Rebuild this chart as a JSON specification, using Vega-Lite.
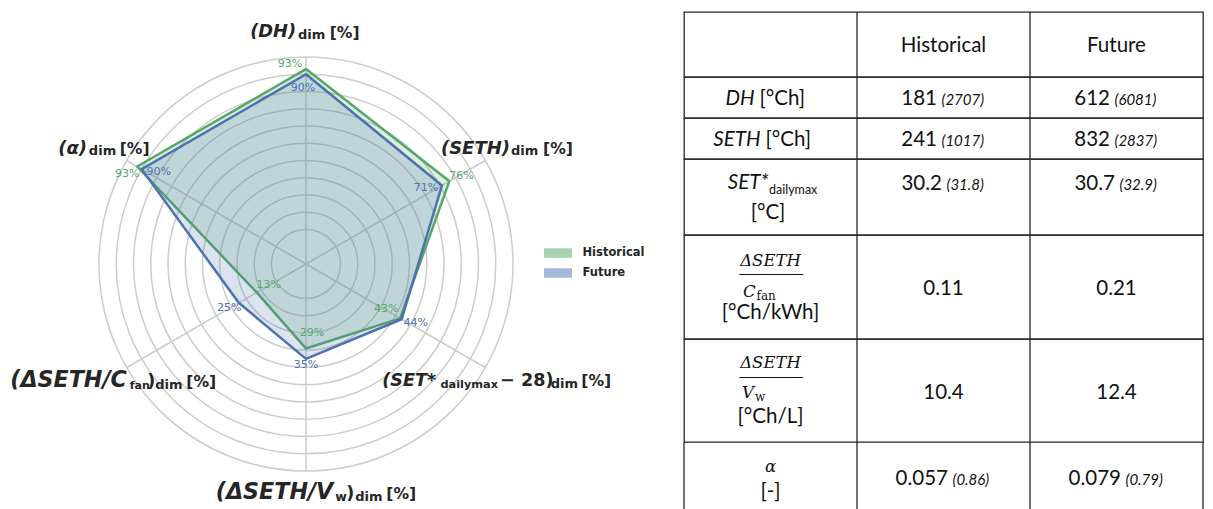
{
 "$schema": "https://vega.github.io/schema/vega-lite/v6.json",
 "padding": {"left": 0, "top": 10, "right": 0, "bottom": 0},
 "background": "white",
 "bounds": "flush",
 "spacing": 0,
 "config": {"view": {"stroke": null}, "concat": {"spacing": 0}},
 "datasets": {
  "radar": [
   {"axis": "DH", "i": 0, "series": "Historical", "value": 93},
   {"axis": "SETH", "i": 1, "series": "Historical", "value": 76},
   {"axis": "SET", "i": 2, "series": "Historical", "value": 43},
   {"axis": "Vw", "i": 3, "series": "Historical", "value": 29},
   {"axis": "Cfan", "i": 4, "series": "Historical", "value": 13},
   {"axis": "alpha", "i": 5, "series": "Historical", "value": 93},
   {"axis": "DH", "i": 0, "series": "Future", "value": 90},
   {"axis": "SETH", "i": 1, "series": "Future", "value": 71},
   {"axis": "SET", "i": 2, "series": "Future", "value": 44},
   {"axis": "Vw", "i": 3, "series": "Future", "value": 35},
   {"axis": "Cfan", "i": 4, "series": "Future", "value": 25},
   {"axis": "alpha", "i": 5, "series": "Future", "value": 90}
  ],
  "axes": [
   {"axis": "DH", "i": 0, "m1": "(DH)", "dim": "dim", "unit": "[%]"},
   {"axis": "SETH", "i": 1, "m1": "(SETH)", "dim": "dim", "unit": "[%]"},
   {"axis": "SET", "i": 2, "m1": "(SET*", "sub": "dailymax", "tail": "− 28)", "dim": "dim", "unit": "[%]"},
   {"axis": "Vw", "i": 3, "m1": "(ΔSETH/V", "sub": "w", "tail": ")", "dim": "dim", "unit": "[%]"},
   {"axis": "Cfan", "i": 4, "m1": "(ΔSETH/C", "sub": "fan", "tail": ")", "dim": "dim", "unit": "[%]"},
   {"axis": "alpha", "i": 5, "m1": "(α)", "dim": "dim", "unit": "[%]"}
  ],
  "grid": [
   {"level": 0}, {"level": 10}, {"level": 20}, {"level": 30}, {"level": 40}, {"level": 50},
   {"level": 60}, {"level": 70}, {"level": 80}, {"level": 90}, {"level": 100}
  ],
  "table": [
   {"row": "header", "col": "c1", "a": ""},
   {"row": "header", "col": "c2", "a": "Historical"},
   {"row": "header", "col": "c3", "a": "Future"},
   {"row": "DH", "col": "c1", "a": "DH", "b": "[°Ch]"},
   {"row": "DH", "col": "c2", "a": "181", "b": "(2707)"},
   {"row": "DH", "col": "c3", "a": "612", "b": "(6081)"},
   {"row": "SETH", "col": "c1", "a": "SETH", "b": "[°Ch]"},
   {"row": "SETH", "col": "c2", "a": "241", "b": "(1017)"},
   {"row": "SETH", "col": "c3", "a": "832", "b": "(2837)"},
   {"row": "SET", "col": "c1", "a": "SET*", "b": "dailymax", "c": "[°C]"},
   {"row": "SET", "col": "c2", "a": "30.2", "b": "(31.8)"},
   {"row": "SET", "col": "c3", "a": "30.7", "b": "(32.9)"},
   {"row": "Cfan", "col": "c1", "a": "ΔSETH", "b": "C", "c": "fan", "d": "[°Ch/kWh]"},
   {"row": "Cfan", "col": "c2", "a": "0.11"},
   {"row": "Cfan", "col": "c3", "a": "0.21"},
   {"row": "Vw", "col": "c1", "a": "ΔSETH", "b": "V", "c": "w", "d": "[°Ch/L]"},
   {"row": "Vw", "col": "c2", "a": "10.4"},
   {"row": "Vw", "col": "c3", "a": "12.4"},
   {"row": "alpha", "col": "c1", "a": "α", "b": "[-]"},
   {"row": "alpha", "col": "c2", "a": "0.057", "b": "(0.86)"},
   {"row": "alpha", "col": "c3", "a": "0.079", "b": "(0.79)"}
  ]
 },
 "hconcat": [
  {
   "width": 684,
   "height": 499,
   "view": {"stroke": null},
   "encoding": {
    "x": {"field": "px", "type": "quantitative", "scale": {"domain": [-177.391, 219.13], "nice": false, "zero": false}, "axis": null},
    "y": {"field": "py", "type": "quantitative", "scale": {"domain": [-143.188, 146.087], "nice": false, "zero": false}, "axis": null}
   },
   "layer": [
    {
     "data": {"name": "grid"},
     "transform": [{"calculate": "0", "as": "px"}, {"calculate": "0", "as": "py"}, {"calculate": "datum.level + 20", "as": "u"}],
     "mark": {"type": "point", "shape": "circle", "filled": false, "stroke": "#cccccc", "strokeWidth": 1.5, "opacity": 1},
     "encoding": {"size": {"field": "u", "type": "quantitative", "scale": {"type": "pow", "exponent": 2, "domain": [0, 120], "range": [0, 171396]}, "legend": null}}
    },
    {
     "data": {"name": "axes"},
     "transform": [
      {"calculate": "PI/2 - datum.i*PI/3", "as": "t"},
      {"calculate": "0", "as": "px"}, {"calculate": "0", "as": "py"},
      {"calculate": "120*cos(datum.t)", "as": "ex"}, {"calculate": "120*sin(datum.t)", "as": "ey"}
     ],
     "mark": {"type": "rule", "stroke": "#cccccc", "strokeWidth": 1.5},
     "encoding": {"x2": {"field": "ex"}, "y2": {"field": "ey"}}
    },
    {
     "data": {"name": "radar"},
     "transform": [
      {"calculate": "PI/2 - datum.i*PI/3", "as": "t"},
      {"calculate": "(datum.value+20)*cos(datum.t)", "as": "px"},
      {"calculate": "(datum.value+20)*sin(datum.t)", "as": "py"},
      {"calculate": "datum.value + '%'", "as": "lbl"}
     ],
     "layer": [
      {
       "transform": [{"filter": "datum.series=='Historical'"}],
       "mark": {"type": "line", "interpolate": "linear-closed", "stroke": "#55a868", "strokeWidth": 2.5, "fillOpacity": 0.2, "strokeJoin": "miter"},
       "encoding": {
        "order": {"field": "i", "type": "quantitative"},
        "fill": {"field": "series", "type": "nominal", "scale": {"domain": ["Historical", "Future"], "range": ["#55a868", "#4c72b0"]},
         "legend": {"title": null, "orient": "none", "legendX": 544, "legendY": 227, "direction": "vertical", "symbolType": "M-1,-0.34H1V0.34H-1Z", "symbolSize": 784, "symbolOpacity": 0.5, "symbolStrokeWidth": 0, "labelFont": "DejaVu Sans", "labelFontWeight": "bold", "labelFontSize": 11.5, "labelColor": "#262626", "labelOffset": 10.5, "rowPadding": -8.5, "padding": 0}}
       }
      },
      {
       "transform": [{"filter": "datum.series=='Future'"}],
       "mark": {"type": "line", "interpolate": "linear-closed", "stroke": "#4c72b0", "strokeWidth": 2.5, "fillOpacity": 0.2, "strokeJoin": "miter"},
       "encoding": {
        "order": {"field": "i", "type": "quantitative"},
        "fill": {"field": "series", "type": "nominal", "scale": {"domain": ["Historical", "Future"], "range": ["#55a868", "#4c72b0"]},
         "legend": {"title": null, "orient": "none", "legendX": 544, "legendY": 227, "direction": "vertical", "symbolType": "M-1,-0.34H1V0.34H-1Z", "symbolSize": 784, "symbolOpacity": 0.5, "symbolStrokeWidth": 0, "labelFont": "DejaVu Sans", "labelFontWeight": "bold", "labelFontSize": 11.5, "labelColor": "#262626", "labelOffset": 10.5, "rowPadding": -8.5, "padding": 0}}
       }
      },
      {"transform": [{"filter": "datum.series=='Historical' && datum.axis=='DH'"}], "mark": {"type": "text", "font": "DejaVu Sans", "fontSize": 11, "color": "#55a868", "dx": -16, "dy": -5}, "encoding": {"text": {"field": "lbl"}}},
      {"transform": [{"filter": "datum.series=='Future' && datum.axis=='DH'"}], "mark": {"type": "text", "font": "DejaVu Sans", "fontSize": 11, "color": "#4c72b0", "dx": -3, "dy": 14}, "encoding": {"text": {"field": "lbl"}}},
      {"transform": [{"filter": "datum.series=='Historical' && datum.axis=='SETH'"}], "mark": {"type": "text", "font": "DejaVu Sans", "fontSize": 11, "color": "#55a868", "dx": 12, "dy": -5}, "encoding": {"text": {"field": "lbl"}}},
      {"transform": [{"filter": "datum.series=='Future' && datum.axis=='SETH'"}], "mark": {"type": "text", "font": "DejaVu Sans", "fontSize": 11, "color": "#4c72b0", "dx": -16, "dy": 2.5}, "encoding": {"text": {"field": "lbl"}}},
      {"transform": [{"filter": "datum.series=='Historical' && datum.axis=='SET'"}], "mark": {"type": "text", "font": "DejaVu Sans", "fontSize": 11, "color": "#55a868", "dx": -14, "dy": -9.6}, "encoding": {"text": {"field": "lbl"}}},
      {"transform": [{"filter": "datum.series=='Future' && datum.axis=='SET'"}], "mark": {"type": "text", "font": "DejaVu Sans", "fontSize": 11, "color": "#4c72b0", "dx": 14, "dy": 4}, "encoding": {"text": {"field": "lbl"}}},
      {"transform": [{"filter": "datum.series=='Historical' && datum.axis=='Vw'"}], "mark": {"type": "text", "font": "DejaVu Sans", "fontSize": 11, "color": "#55a868", "dx": 6, "dy": -16}, "encoding": {"text": {"field": "lbl"}}},
      {"transform": [{"filter": "datum.series=='Future' && datum.axis=='Vw'"}], "mark": {"type": "text", "font": "DejaVu Sans", "fontSize": 11, "color": "#4c72b0", "dx": 0, "dy": 6.5}, "encoding": {"text": {"field": "lbl"}}},
      {"transform": [{"filter": "datum.series=='Historical' && datum.axis=='Cfan'"}], "mark": {"type": "text", "font": "DejaVu Sans", "fontSize": 11, "color": "#55a868", "dx": 12, "dy": -7}, "encoding": {"text": {"field": "lbl"}}},
      {"transform": [{"filter": "datum.series=='Future' && datum.axis=='Cfan'"}], "mark": {"type": "text", "font": "DejaVu Sans", "fontSize": 11, "color": "#4c72b0", "dx": -9.5, "dy": 5}, "encoding": {"text": {"field": "lbl"}}},
      {"transform": [{"filter": "datum.series=='Historical' && datum.axis=='alpha'"}], "mark": {"type": "text", "font": "DejaVu Sans", "fontSize": 11, "color": "#55a868", "dx": -10, "dy": 7}, "encoding": {"text": {"field": "lbl"}}},
      {"transform": [{"filter": "datum.series=='Future' && datum.axis=='alpha'"}], "mark": {"type": "text", "font": "DejaVu Sans", "fontSize": 11, "color": "#4c72b0", "dx": 17, "dy": 3}, "encoding": {"text": {"field": "lbl"}}}
     ]
    },
    {
     "data": {"name": "axes"},
     "transform": [
      {"calculate": "PI/2 - datum.i*PI/3", "as": "t"},
      {"calculate": "134.5*cos(datum.t)", "as": "px"},
      {"calculate": "134.5*sin(datum.t)", "as": "py"}
     ],
     "layer": [
      {"transform": [{"filter": "datum.axis=='DH'"}], "mark": {"type": "text", "align": "left", "baseline": "alphabetic", "font": "DejaVu Sans", "fontWeight": "bold", "fontStyle": "italic", "fontSize": 17.8, "color": "#262626", "dx": -55.8, "dy": 5}, "encoding": {"text": {"field": "m1"}}},
      {"transform": [{"filter": "datum.axis=='DH'"}], "mark": {"type": "text", "align": "left", "baseline": "alphabetic", "font": "DejaVu Sans", "fontWeight": "bold", "fontSize": 13, "color": "#262626", "dx": -8, "dy": 6.8}, "encoding": {"text": {"field": "dim"}}},
      {"transform": [{"filter": "datum.axis=='DH'"}], "mark": {"type": "text", "align": "left", "baseline": "alphabetic", "font": "DejaVu Sans", "fontWeight": "bold", "fontSize": 15.6, "color": "#262626", "dx": 23.7, "dy": 6}, "encoding": {"text": {"field": "unit"}}},

      {"transform": [{"filter": "datum.axis=='SETH'"}], "mark": {"type": "text", "align": "left", "baseline": "alphabetic", "font": "DejaVu Sans", "fontWeight": "bold", "fontStyle": "italic", "fontSize": 18, "color": "#262626", "dx": -66, "dy": 5.7}, "encoding": {"text": {"field": "m1"}}},
      {"transform": [{"filter": "datum.axis=='SETH'"}], "mark": {"type": "text", "align": "left", "baseline": "alphabetic", "font": "DejaVu Sans", "fontWeight": "bold", "fontSize": 13, "color": "#262626", "dx": 4.1, "dy": 7.3}, "encoding": {"text": {"field": "dim"}}},
      {"transform": [{"filter": "datum.axis=='SETH'"}], "mark": {"type": "text", "align": "left", "baseline": "alphabetic", "font": "DejaVu Sans", "fontWeight": "bold", "fontSize": 15.6, "color": "#262626", "dx": 36.1, "dy": 5.7}, "encoding": {"text": {"field": "unit"}}},

      {"transform": [{"filter": "datum.axis=='alpha'"}], "mark": {"type": "text", "align": "left", "baseline": "alphabetic", "font": "DejaVu Sans", "fontWeight": "bold", "fontStyle": "italic", "fontSize": 18, "color": "#262626", "dx": -46.9, "dy": 5.7}, "encoding": {"text": {"field": "m1"}}},
      {"transform": [{"filter": "datum.axis=='alpha'"}], "mark": {"type": "text", "align": "left", "baseline": "alphabetic", "font": "DejaVu Sans", "fontWeight": "bold", "fontSize": 13, "color": "#262626", "dx": -16.2, "dy": 7.3}, "encoding": {"text": {"field": "dim"}}},
      {"transform": [{"filter": "datum.axis=='alpha'"}], "mark": {"type": "text", "align": "left", "baseline": "alphabetic", "font": "DejaVu Sans", "fontWeight": "bold", "fontSize": 15.6, "color": "#262626", "dx": 14.6, "dy": 5.7}, "encoding": {"text": {"field": "unit"}}},

      {"transform": [{"filter": "datum.axis=='SET'"}], "mark": {"type": "text", "align": "left", "baseline": "alphabetic", "font": "DejaVu Sans", "fontWeight": "bold", "fontStyle": "italic", "fontSize": 17.6, "color": "#262626", "dx": -124.7, "dy": 6.3}, "encoding": {"text": {"field": "m1"}}},
      {"transform": [{"filter": "datum.axis=='SET'"}], "mark": {"type": "text", "align": "left", "baseline": "alphabetic", "font": "DejaVu Sans", "fontWeight": "bold", "fontSize": 11.3, "color": "#262626", "dx": -66.4, "dy": 8}, "encoding": {"text": {"field": "sub"}}},
      {"transform": [{"filter": "datum.axis=='SET'"}], "mark": {"type": "text", "align": "left", "baseline": "alphabetic", "font": "DejaVu Sans", "fontWeight": "bold", "fontSize": 17.6, "color": "#262626", "dx": -6.9, "dy": 6.3}, "encoding": {"text": {"field": "tail"}}},
      {"transform": [{"filter": "datum.axis=='SET'"}], "mark": {"type": "text", "align": "left", "baseline": "alphabetic", "font": "DejaVu Sans", "fontWeight": "bold", "fontSize": 13, "color": "#262626", "dx": 43.8, "dy": 8.3}, "encoding": {"text": {"field": "dim"}}},
      {"transform": [{"filter": "datum.axis=='SET'"}], "mark": {"type": "text", "align": "left", "baseline": "alphabetic", "font": "DejaVu Sans", "fontWeight": "bold", "fontSize": 15.6, "color": "#262626", "dx": 74.4, "dy": 6.3}, "encoding": {"text": {"field": "unit"}}},

      {"transform": [{"filter": "datum.axis=='Cfan'"}], "mark": {"type": "text", "align": "left", "baseline": "alphabetic", "font": "DejaVu Sans", "fontWeight": "bold", "fontStyle": "italic", "fontSize": 22.2, "color": "#262626", "dx": -94.8, "dy": 7}, "encoding": {"text": {"field": "m1"}}},
      {"transform": [{"filter": "datum.axis=='Cfan'"}], "mark": {"type": "text", "align": "left", "baseline": "alphabetic", "font": "DejaVu Sans", "fontWeight": "bold", "fontSize": 11, "color": "#262626", "dx": 24.6, "dy": 8.7}, "encoding": {"text": {"field": "sub"}}},
      {"transform": [{"filter": "datum.axis=='Cfan'"}], "mark": {"type": "text", "align": "left", "baseline": "alphabetic", "font": "DejaVu Sans", "fontWeight": "bold", "fontSize": 17.6, "color": "#262626", "dx": 42.2, "dy": 7}, "encoding": {"text": {"field": "tail"}}},
      {"transform": [{"filter": "datum.axis=='Cfan'"}], "mark": {"type": "text", "align": "left", "baseline": "alphabetic", "font": "DejaVu Sans", "fontWeight": "bold", "fontSize": 13, "color": "#262626", "dx": 50.2, "dy": 9.3}, "encoding": {"text": {"field": "dim"}}},
      {"transform": [{"filter": "datum.axis=='Cfan'"}], "mark": {"type": "text", "align": "left", "baseline": "alphabetic", "font": "DejaVu Sans", "fontWeight": "bold", "fontSize": 15.6, "color": "#262626", "dx": 81.2, "dy": 7}, "encoding": {"text": {"field": "unit"}}},

      {"transform": [{"filter": "datum.axis=='Vw'"}], "mark": {"type": "text", "align": "left", "baseline": "alphabetic", "font": "DejaVu Sans", "fontWeight": "bold", "fontStyle": "italic", "fontSize": 22.2, "color": "#262626", "dx": -90.2, "dy": 3.3}, "encoding": {"text": {"field": "m1"}}},
      {"transform": [{"filter": "datum.axis=='Vw'"}], "mark": {"type": "text", "align": "left", "baseline": "alphabetic", "font": "DejaVu Sans", "fontWeight": "bold", "fontSize": 12.5, "color": "#262626", "dx": 29.2, "dy": 5.3}, "encoding": {"text": {"field": "sub"}}},
      {"transform": [{"filter": "datum.axis=='Vw'"}], "mark": {"type": "text", "align": "left", "baseline": "alphabetic", "font": "DejaVu Sans", "fontWeight": "bold", "fontSize": 17.6, "color": "#262626", "dx": 40.2, "dy": 3.3}, "encoding": {"text": {"field": "tail"}}},
      {"transform": [{"filter": "datum.axis=='Vw'"}], "mark": {"type": "text", "align": "left", "baseline": "alphabetic", "font": "DejaVu Sans", "fontWeight": "bold", "fontSize": 13, "color": "#262626", "dx": 49.3, "dy": 5.3}, "encoding": {"text": {"field": "dim"}}},
      {"transform": [{"filter": "datum.axis=='Vw'"}], "mark": {"type": "text", "align": "left", "baseline": "alphabetic", "font": "DejaVu Sans", "fontWeight": "bold", "fontSize": 15.6, "color": "#262626", "dx": 80.3, "dy": 3.3}, "encoding": {"text": {"field": "unit"}}}
     ]
    }
   ]
  },
  {
   "spacing": 0,
   "bounds": "flush",
   "vconcat": [
    {
     "height": 65, "width": 519,
     "view": {"stroke": "#262626", "strokeWidth": 1.3},
     "data": {"name": "table"},
     "transform": [{"filter": "datum.row=='header'"}],
     "encoding": {"x": {"field": "col", "type": "nominal", "scale": {"domain": ["c1", "c2", "c3"], "paddingInner": 0, "paddingOuter": 0}, "axis": null}},
     "layer": [
      {"transform": [{"filter": "datum.col!='c1'"}], "mark": {"type": "rule", "stroke": "#262626", "strokeWidth": 1.3}, "encoding": {"x": {"field": "col", "type": "nominal", "bandPosition": 0, "scale": {"domain": ["c1", "c2", "c3"], "paddingInner": 0, "paddingOuter": 0}, "axis": null}}},
      {"transform": [{"filter": "datum.col!='c1'"}], "mark": {"type": "text", "baseline": "alphabetic", "font": "Lato", "fontSize": 20.5, "color": "#111111", "dy": 7.5}, "encoding": {"text": {"field": "a"}}}
     ]
    },
    {
     "height": 41, "width": 519,
     "view": {"stroke": "#262626", "strokeWidth": 1.3},
     "data": {"name": "table"},
     "transform": [{"filter": "datum.row=='DH'"}],
     "encoding": {"x": {"field": "col", "type": "nominal", "scale": {"domain": ["c1", "c2", "c3"], "paddingInner": 0, "paddingOuter": 0}, "axis": null}},
     "layer": [
      {"transform": [{"filter": "datum.col!='c1'"}], "mark": {"type": "rule", "stroke": "#262626", "strokeWidth": 1.3}, "encoding": {"x": {"field": "col", "type": "nominal", "bandPosition": 0, "scale": {"domain": ["c1", "c2", "c3"], "paddingInner": 0, "paddingOuter": 0}, "axis": null}}},
      {"transform": [{"filter": "datum.col=='c1'"}], "mark": {"type": "text", "align": "right", "baseline": "alphabetic", "font": "Lato", "fontStyle": "italic", "fontSize": 20.5, "color": "#111111", "dx": -16, "dy": 7}, "encoding": {"text": {"field": "a"}}},
      {"transform": [{"filter": "datum.col=='c1'"}], "mark": {"type": "text", "align": "left", "baseline": "alphabetic", "font": "Lato", "fontSize": 20.5, "color": "#111111", "dx": -11, "dy": 7}, "encoding": {"text": {"field": "b"}}},
      {"transform": [{"filter": "datum.col!='c1'"}], "mark": {"type": "text", "align": "right", "baseline": "alphabetic", "font": "Lato", "fontSize": 20.5, "color": "#111111", "dx": -6.5, "dy": 7}, "encoding": {"text": {"field": "a"}}},
      {"transform": [{"filter": "datum.col!='c1'"}], "mark": {"type": "text", "align": "left", "baseline": "alphabetic", "font": "Lato", "fontStyle": "italic", "fontSize": 15, "color": "#111111", "dx": -2, "dy": 7}, "encoding": {"text": {"field": "b"}}}
     ]
    },
    {
     "height": 41, "width": 519,
     "view": {"stroke": "#262626", "strokeWidth": 1.3},
     "data": {"name": "table"},
     "transform": [{"filter": "datum.row=='SETH'"}],
     "encoding": {"x": {"field": "col", "type": "nominal", "scale": {"domain": ["c1", "c2", "c3"], "paddingInner": 0, "paddingOuter": 0}, "axis": null}},
     "layer": [
      {"transform": [{"filter": "datum.col!='c1'"}], "mark": {"type": "rule", "stroke": "#262626", "strokeWidth": 1.3}, "encoding": {"x": {"field": "col", "type": "nominal", "bandPosition": 0, "scale": {"domain": ["c1", "c2", "c3"], "paddingInner": 0, "paddingOuter": 0}, "axis": null}}},
      {"transform": [{"filter": "datum.col=='c1'"}], "mark": {"type": "text", "align": "right", "baseline": "alphabetic", "font": "Lato", "fontStyle": "italic", "fontSize": 20.5, "color": "#111111", "dx": -10, "dy": 7}, "encoding": {"text": {"field": "a"}}},
      {"transform": [{"filter": "datum.col=='c1'"}], "mark": {"type": "text", "align": "left", "baseline": "alphabetic", "font": "Lato", "fontSize": 20.5, "color": "#111111", "dx": -5, "dy": 7}, "encoding": {"text": {"field": "b"}}},
      {"transform": [{"filter": "datum.col!='c1'"}], "mark": {"type": "text", "align": "right", "baseline": "alphabetic", "font": "Lato", "fontSize": 20.5, "color": "#111111", "dx": -6.5, "dy": 7}, "encoding": {"text": {"field": "a"}}},
      {"transform": [{"filter": "datum.col!='c1'"}], "mark": {"type": "text", "align": "left", "baseline": "alphabetic", "font": "Lato", "fontStyle": "italic", "fontSize": 15, "color": "#111111", "dx": -2, "dy": 7}, "encoding": {"text": {"field": "b"}}}
     ]
    },
    {
     "height": 76, "width": 519,
     "view": {"stroke": "#262626", "strokeWidth": 1.3},
     "data": {"name": "table"},
     "transform": [{"filter": "datum.row=='SET'"}],
     "encoding": {"x": {"field": "col", "type": "nominal", "scale": {"domain": ["c1", "c2", "c3"], "paddingInner": 0, "paddingOuter": 0}, "axis": null}},
     "layer": [
      {"transform": [{"filter": "datum.col!='c1'"}], "mark": {"type": "rule", "stroke": "#262626", "strokeWidth": 1.3}, "encoding": {"x": {"field": "col", "type": "nominal", "bandPosition": 0, "scale": {"domain": ["c1", "c2", "c3"], "paddingInner": 0, "paddingOuter": 0}, "axis": null}}},
      {"transform": [{"filter": "datum.col=='c1'"}], "mark": {"type": "text", "align": "right", "baseline": "alphabetic", "font": "Lato", "fontStyle": "italic", "fontSize": 20.5, "color": "#111111", "dx": -2, "dy": -8}, "encoding": {"text": {"field": "a"}}},
      {"transform": [{"filter": "datum.col=='c1'"}], "mark": {"type": "text", "align": "left", "baseline": "alphabetic", "font": "Lato", "fontSize": 12.5, "color": "#111111", "dx": -1.5, "dy": -3}, "encoding": {"text": {"field": "b"}}},
      {"transform": [{"filter": "datum.col=='c1'"}], "mark": {"type": "text", "align": "center", "baseline": "alphabetic", "font": "Lato", "fontSize": 20.5, "color": "#111111", "dx": -2.5, "dy": 21.5}, "encoding": {"text": {"field": "c"}}},
      {"transform": [{"filter": "datum.col!='c1'"}], "mark": {"type": "text", "align": "right", "baseline": "alphabetic", "font": "Lato", "fontSize": 20.5, "color": "#111111", "dx": -1.5, "dy": -7}, "encoding": {"text": {"field": "a"}}},
      {"transform": [{"filter": "datum.col!='c1'"}], "mark": {"type": "text", "align": "left", "baseline": "alphabetic", "font": "Lato", "fontStyle": "italic", "fontSize": 15, "color": "#111111", "dx": 3, "dy": -7}, "encoding": {"text": {"field": "b"}}}
     ]
    },
    {
     "height": 104, "width": 519,
     "view": {"stroke": "#262626", "strokeWidth": 1.3},
     "data": {"name": "table"},
     "transform": [{"filter": "datum.row=='Cfan'"}],
     "encoding": {"x": {"field": "col", "type": "nominal", "scale": {"domain": ["c1", "c2", "c3"], "paddingInner": 0, "paddingOuter": 0}, "axis": null}},
     "layer": [
      {"transform": [{"filter": "datum.col!='c1'"}], "mark": {"type": "rule", "stroke": "#262626", "strokeWidth": 1.3}, "encoding": {"x": {"field": "col", "type": "nominal", "bandPosition": 0, "scale": {"domain": ["c1", "c2", "c3"], "paddingInner": 0, "paddingOuter": 0}, "axis": null}}},
      {"transform": [{"filter": "datum.col=='c1'"}], "mark": {"type": "text", "align": "center", "baseline": "alphabetic", "font": "DejaVu Serif", "fontStyle": "italic", "fontSize": 16.5, "color": "#111111", "dy": -21.5}, "encoding": {"text": {"field": "a"}}},
      {"transform": [{"filter": "datum.col=='c1'"}], "mark": {"type": "text", "text": "────────", "align": "center", "baseline": "alphabetic", "font": "DejaVu Sans Mono", "fontSize": 13.2, "color": "#111111", "dx": 0.8, "dy": -8.2}},
      {"transform": [{"filter": "datum.col=='c1'"}], "mark": {"type": "text", "align": "right", "baseline": "alphabetic", "font": "DejaVu Serif", "fontStyle": "italic", "fontSize": 16.5, "color": "#111111", "dx": -15, "dy": 10}, "encoding": {"text": {"field": "b"}}},
      {"transform": [{"filter": "datum.col=='c1'"}], "mark": {"type": "text", "align": "left", "baseline": "alphabetic", "font": "DejaVu Serif", "fontSize": 12, "color": "#111111", "dx": -14, "dy": 13}, "encoding": {"text": {"field": "c"}}},
      {"transform": [{"filter": "datum.col=='c1'"}], "mark": {"type": "text", "align": "center", "baseline": "alphabetic", "font": "Lato", "fontSize": 20.5, "color": "#111111", "dy": 32}, "encoding": {"text": {"field": "d"}}},
      {"transform": [{"filter": "datum.col!='c1'"}], "mark": {"type": "text", "align": "center", "baseline": "alphabetic", "font": "Lato", "fontSize": 20.5, "color": "#111111", "dy": 8}, "encoding": {"text": {"field": "a"}}}
     ]
    },
    {
     "height": 103, "width": 519,
     "view": {"stroke": "#262626", "strokeWidth": 1.3},
     "data": {"name": "table"},
     "transform": [{"filter": "datum.row=='Vw'"}],
     "encoding": {"x": {"field": "col", "type": "nominal", "scale": {"domain": ["c1", "c2", "c3"], "paddingInner": 0, "paddingOuter": 0}, "axis": null}},
     "layer": [
      {"transform": [{"filter": "datum.col!='c1'"}], "mark": {"type": "rule", "stroke": "#262626", "strokeWidth": 1.3}, "encoding": {"x": {"field": "col", "type": "nominal", "bandPosition": 0, "scale": {"domain": ["c1", "c2", "c3"], "paddingInner": 0, "paddingOuter": 0}, "axis": null}}},
      {"transform": [{"filter": "datum.col=='c1'"}], "mark": {"type": "text", "align": "center", "baseline": "alphabetic", "font": "DejaVu Serif", "fontStyle": "italic", "fontSize": 16.5, "color": "#111111", "dy": -23}, "encoding": {"text": {"field": "a"}}},
      {"transform": [{"filter": "datum.col=='c1'"}], "mark": {"type": "text", "text": "────────", "align": "center", "baseline": "alphabetic", "font": "DejaVu Sans Mono", "fontSize": 13.2, "color": "#111111", "dx": 0.8, "dy": -8.5}},
      {"transform": [{"filter": "datum.col=='c1'"}], "mark": {"type": "text", "align": "right", "baseline": "alphabetic", "font": "DejaVu Serif", "fontStyle": "italic", "fontSize": 16.5, "color": "#111111", "dx": -16.5, "dy": 7.5}, "encoding": {"text": {"field": "b"}}},
      {"transform": [{"filter": "datum.col=='c1'"}], "mark": {"type": "text", "align": "left", "baseline": "alphabetic", "font": "DejaVu Serif", "fontSize": 12, "color": "#111111", "dx": -15.5, "dy": 10.8}, "encoding": {"text": {"field": "c"}}},
      {"transform": [{"filter": "datum.col=='c1'"}], "mark": {"type": "text", "align": "center", "baseline": "alphabetic", "font": "Lato", "fontSize": 20.5, "color": "#111111", "dy": 32.5}, "encoding": {"text": {"field": "d"}}},
      {"transform": [{"filter": "datum.col!='c1'"}], "mark": {"type": "text", "align": "center", "baseline": "alphabetic", "font": "Lato", "fontSize": 20.5, "color": "#111111", "dy": 8.5}, "encoding": {"text": {"field": "a"}}}
     ]
    },
    {
     "height": 69, "width": 519,
     "view": {"stroke": null},
     "data": {"name": "table"},
     "transform": [{"filter": "datum.row=='alpha'"}],
     "encoding": {"x": {"field": "col", "type": "nominal", "scale": {"domain": ["c1", "c2", "c3"], "paddingInner": 0, "paddingOuter": 0}, "axis": null}},
     "layer": [
      {"mark": {"type": "rule", "stroke": "#262626", "strokeWidth": 1.3}, "encoding": {"x": {"field": "col", "type": "nominal", "bandPosition": 0, "scale": {"domain": ["c1", "c2", "c3"], "paddingInner": 0, "paddingOuter": 0}, "axis": null}}},
      {"transform": [{"filter": "datum.col=='c3'"}], "mark": {"type": "rule", "stroke": "#262626", "strokeWidth": 1.3}, "encoding": {"x": {"field": "col", "type": "nominal", "bandPosition": 1, "scale": {"domain": ["c1", "c2", "c3"], "paddingInner": 0, "paddingOuter": 0}, "axis": null}}},
      {"transform": [{"filter": "datum.col=='c1'"}], "mark": {"type": "text", "align": "center", "baseline": "alphabetic", "font": "DejaVu Serif", "fontStyle": "italic", "fontSize": 16.5, "color": "#111111", "dy": -4.5}, "encoding": {"text": {"field": "a"}}},
      {"transform": [{"filter": "datum.col=='c1'"}], "mark": {"type": "text", "align": "center", "baseline": "alphabetic", "font": "Lato", "fontSize": 20.5, "color": "#111111", "dy": 21.5}, "encoding": {"text": {"field": "b"}}},
      {"transform": [{"filter": "datum.col!='c1'"}], "mark": {"type": "text", "align": "right", "baseline": "alphabetic", "font": "Lato", "fontSize": 20.5, "color": "#111111", "dx": 4.5, "dy": 8.5}, "encoding": {"text": {"field": "a"}}},
      {"transform": [{"filter": "datum.col!='c1'"}], "mark": {"type": "text", "align": "left", "baseline": "alphabetic", "font": "Lato", "fontStyle": "italic", "fontSize": 15, "color": "#111111", "dx": 9, "dy": 8.5}, "encoding": {"text": {"field": "b"}}}
     ]
    }
   ]
  }
 ]
}
